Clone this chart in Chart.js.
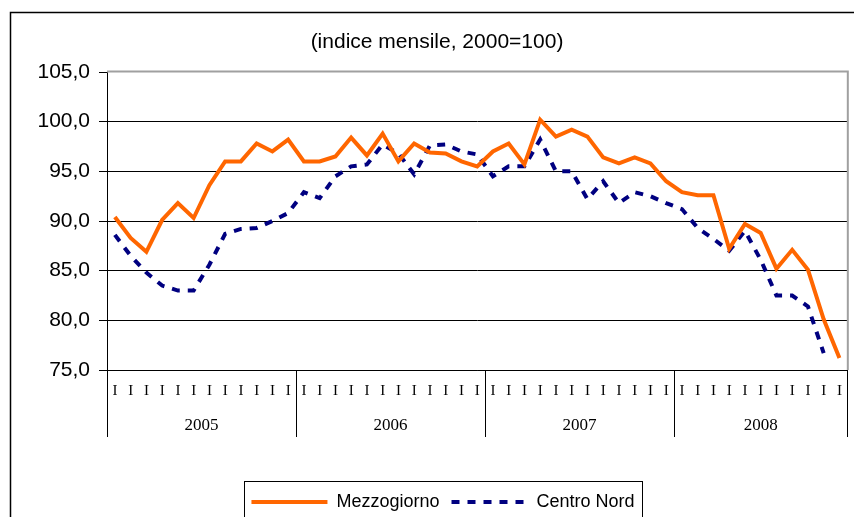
<!DOCTYPE html>
<html>
<head>
<meta charset="utf-8">
<script src="https://cdn.jsdelivr.net/npm/chart.js@4.4.1/dist/chart.umd.min.js"></script>
<style>
  body { margin: 0; background: #fff; }
  canvas { display: block; }
</style>
</head>
<body>
<canvas id="chart" width="854" height="517"></canvas>
<script>
const years = ['2005', '2006', '2007', '2008'];
const monthsPerYear = [12, 12, 12, 11];
const monthNames = ['gen', 'feb', 'mar', 'apr', 'mag', 'giu', 'lug', 'ago', 'set', 'ott', 'nov', 'dic'];

// indice mensile, 2000=100
const mezzogiorno = [
    90.4, 88.3, 86.9, 90.1, 91.8, 90.3, 93.6, 96.0, 96.0, 97.8, 97.0, 98.2,
    96.0, 96.0, 96.5, 98.4, 96.6, 98.8, 96.0, 97.8, 96.9, 96.8, 96.0, 95.5,
    97.0, 97.8, 95.7, 100.2, 98.5, 99.2, 98.5, 96.4, 95.8, 96.4, 95.8, 94.0,
    92.9, 92.6, 92.6, 87.2, 89.7, 88.8, 85.2, 87.1, 85.1, 80.1, 76.2
];
const centroNord = [
    88.6, 86.5, 84.8, 83.5, 83.0, 83.0, 85.6, 88.7, 89.2, 89.3, 90.0, 90.8,
    92.9, 92.3, 94.5, 95.5, 95.7, 97.7, 96.8, 94.7, 97.6, 97.7, 97.0, 96.7,
    94.5, 95.5, 95.5, 98.2, 95.0, 95.0, 92.2, 94.0, 91.8, 92.9, 92.5, 91.8,
    91.2, 89.3, 88.2, 87.0, 89.0, 86.1, 82.5, 82.5, 81.4, 76.7, null
];
const yTicks = { min: 75, max: 105, step: 5 };

const labels = [];
years.forEach((y, k) => {
    for (let m = 0; m < monthsPerYear[k]; m++) labels.push(monthNames[m] + ' ' + y);
});

const SANS = 'Arial, "Liberation Sans", sans-serif';
const SERIF = '"Times New Roman", "Liberation Serif", serif';

// frame of the whole picture, grey border of the plot area, legend box
const frames = {
    id: 'frames',
    afterLayout(chart) {
        // title and legend sit a little right of the canvas centre in the original
        chart.titleBlock.left += 8;
        chart.titleBlock.right += 8;
        chart.legend.left += 14;
        chart.legend.right += 14;
    },
    beforeDraw(chart) {
        const ctx = chart.ctx;
        ctx.save();
        ctx.fillStyle = '#fff';
        ctx.fillRect(0, 0, chart.width, chart.height);
        ctx.strokeStyle = '#000';
        ctx.lineWidth = 1.5;
        ctx.beginPath();
        ctx.moveTo(10.5, chart.height);
        ctx.lineTo(10.5, 12.5);
        ctx.lineTo(chart.width, 12.5);
        ctx.stroke();
        ctx.restore();
    },
    beforeDatasetsDraw(chart) {
        const { ctx, chartArea: a } = chart;
        ctx.save();
        ctx.strokeStyle = '#a0a0a0';
        ctx.lineWidth = 2;
        ctx.beginPath();
        ctx.moveTo(a.left, a.top - 0.5);
        ctx.lineTo(a.right + 0.5, a.top - 0.5);
        ctx.lineTo(a.right + 0.5, a.bottom);
        ctx.stroke();
        ctx.restore();
    },
    afterDraw(chart) {
        const hb = chart.legend.legendHitBoxes;
        if (!hb || !hb.length) return;
        const ctx = chart.ctx;
        const last = hb[hb.length - 1];
        const l = Math.round(hb[0].left - 7) + 0.5;
        const r = Math.round(last.left + last.width + 7) + 0.5;
        const t = Math.round(hb[0].top - 12) + 0.5;
        ctx.save();
        ctx.strokeStyle = '#000';
        ctx.lineWidth = 1;
        ctx.strokeRect(l, t, r - l, chart.height + 10 - t);
        ctx.restore();
    }
};

// year groups under the month ticks
const yearGroups = {
    id: 'yearGroups',
    afterDraw(chart) {
        const { ctx, chartArea, scales: { x } } = chart;
        const step = x.getPixelForValue(1) - x.getPixelForValue(0);
        const edge = i => x.getPixelForValue(i) - step / 2;
        const y0 = chartArea.bottom, y1 = chartArea.bottom + 67;
        ctx.save();
        ctx.strokeStyle = '#000';
        ctx.lineWidth = 1;
        ctx.fillStyle = '#000';
        ctx.font = '17px ' + SERIF;
        ctx.textAlign = 'center';
        ctx.textBaseline = 'middle';
        let start = 0;
        years.forEach((yr, k) => {
            const a = edge(start), b = edge(start + monthsPerYear[k]);
            [a, b].forEach(px => {
                ctx.beginPath();
                ctx.moveTo(Math.round(px) + 0.5, y0);
                ctx.lineTo(Math.round(px) + 0.5, y1);
                ctx.stroke();
            });
            ctx.fillText(yr, (a + b) / 2, chartArea.bottom + 56);
            start += monthsPerYear[k];
        });
        ctx.restore();
    }
};

new Chart(document.getElementById('chart'), {
    type: 'line',
    data: {
        labels: labels,
        datasets: [
            {
                label: 'Mezzogiorno',
                data: mezzogiorno,
                borderColor: '#ff6600',
                backgroundColor: '#ff6600',
                borderWidth: 4,
                pointRadius: 0,
                tension: 0
            },
            {
                label: 'Centro Nord',
                data: centroNord,
                borderColor: '#000080',
                backgroundColor: '#000080',
                borderWidth: 4,
                borderDash: [8, 8],
                pointRadius: 0,
                tension: 0
            }
        ]
    },
    options: {
        responsive: false,
        animation: false,
        layout: { padding: { left: 10, right: 6, top: 0, bottom: -4 } },
        plugins: {
            title: {
                display: true,
                text: '(indice mensile, 2000=100)',
                color: '#000',
                font: { family: SANS, size: 21, weight: 'normal' },
                padding: { top: 30, bottom: 16.8 }
            },
            legend: {
                position: 'bottom',
                labels: {
                    color: '#000',
                    font: { family: SANS, size: 18 },
                    boxWidth: 76,
                    boxHeight: 0,
                    padding: 12
                }
            },
            tooltip: { enabled: false }
        },
        scales: {
            x: {
                type: 'category',
                offset: true,
                grid: { display: false, drawTicks: false },
                border: { display: true, color: '#000', width: 1 },
                ticks: {
                    autoSkip: false,
                    maxRotation: 0,
                    color: '#000',
                    padding: 12,
                    font: { family: SERIF, size: 15 },
                    callback: () => 'I'
                },
                afterFit(scale) {
                    scale.height = 517 + 4 - scale.chart.legend.height - 370;
                }
            },
            y: {
                min: yTicks.min,
                max: yTicks.max,
                grid: {
                    color: c => (c.tick && c.tick.value === yTicks.max) ? 'rgba(0,0,0,0)' : '#000',
                    tickColor: '#000',
                    tickLength: 8,
                    lineWidth: 1
                },
                border: { display: true, color: '#000', width: 1 },
                ticks: {
                    stepSize: yTicks.step,
                    color: '#000',
                    padding: 9,
                    font: { family: SANS, size: 21 },
                    callback: v => v.toFixed(1).replace('.', ',')
                },
                afterFit(scale) {
                    scale.width = 97;
                }
            }
        }
    },
    plugins: [frames, yearGroups]
});
</script>
</body>
</html>
